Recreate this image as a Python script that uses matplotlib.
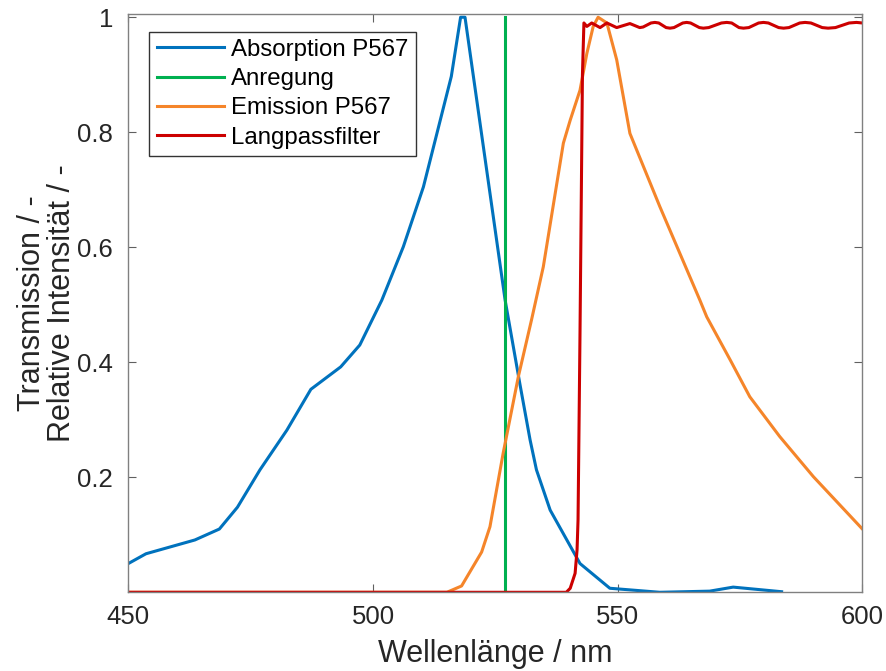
import matplotlib
matplotlib.use("Agg")
import matplotlib.pyplot as plt

plt.rcParams["font.family"] = ["Liberation Sans", "DejaVu Sans"]

# Absorption P567
abs_x = [450, 453.6, 463.6, 468.6, 472.3, 476.9, 482.4, 487.3, 493.4, 497.3,
         501.8, 506.2, 510.3, 516.0, 517.9, 518.8, 527.0, 530.0, 532.1, 533.4,
         536.2, 542.3, 548.4, 558.6, 568.8, 573.6, 583.5]
abs_y = [0.050, 0.067, 0.091, 0.110, 0.148, 0.213, 0.282, 0.353, 0.392, 0.430,
         0.508, 0.601, 0.705, 0.897, 1.0, 1.0, 0.508, 0.363, 0.265, 0.213,
         0.143, 0.050, 0.007, 0.0, 0.002, 0.009, 0.001]

# Anregung (excitation line)
exc_x = [527, 527]
exc_y = [0, 1]

# Emission P567
em_x = [450, 515.1, 518.1, 522.2, 523.9, 526.6, 529.7, 532.4, 534.8, 536.8,
        538.9, 540.3, 542.3, 543.7, 545.0, 546.0, 547.8, 549.8, 552.5, 558.6,
        566.8, 568.2, 573.0, 577.0, 583.1, 590.0, 599.9]
em_y = [0.0, 0.0, 0.011, 0.070, 0.114, 0.242, 0.375, 0.474, 0.566, 0.671,
        0.781, 0.821, 0.873, 0.937, 0.984, 1.0, 0.990, 0.926, 0.798, 0.671,
        0.508, 0.479, 0.404, 0.340, 0.271, 0.201, 0.111]

# Langpassfilter
lp_x = [450, 539.5, 540.3, 541.3, 541.7, 541.9, 542.3, 542.8, 543.1, 543.7,
        544.7, 546.4, 547.8, 549.8, 552.5, 554.5,
        555.2, 556.8, 557.6, 558.4, 559.9, 560.7, 561.5, 563.3, 564.1, 564.9,
        566.7, 567.5, 568.6, 571.2, 572.3, 573.3, 574.8, 575.7, 576.8, 578.8,
        579.8, 580.8, 582.9, 583.9, 585.0, 587.2, 588.3, 589.5, 591.8, 593.0,
        594.5, 597.3, 598.8, 600]
lp_y = [0, 0, 0.007, 0.033, 0.074, 0.126, 0.45, 0.9, 0.99, 0.984,
        0.99, 0.982, 0.99, 0.982, 0.989, 0.982,
        0.983, 0.990, 0.991, 0.990, 0.982, 0.981, 0.982, 0.990, 0.991, 0.990,
        0.982, 0.981, 0.982, 0.990, 0.991, 0.990, 0.982, 0.981, 0.982, 0.990,
        0.991, 0.990, 0.982, 0.981, 0.982, 0.990, 0.991, 0.990, 0.982, 0.981,
        0.982, 0.990, 0.991, 0.990]

x_ticks = [450, 500, 550, 600]
y_ticks = [0.2, 0.4, 0.6, 0.8, 1]
y_tick_labels = ["0.2", "0.4", "0.6", "0.8", "1"]

fig = plt.figure(figsize=(8.87, 6.71), dpi=100)
ax = fig.add_axes([0.1447, 0.1173, 0.8275, 0.8613])

lw = 2.2
ax.plot(abs_x, abs_y, color="#0072BD", lw=lw, label="Absorption P567")
ax.plot(exc_x, exc_y, color="#00B050", lw=lw, label="Anregung")
ax.plot(em_x, em_y, color="#F5852A", lw=lw, label="Emission P567")
ax.plot(lp_x, lp_y, color="#CC0000", lw=lw, label="Langpassfilter")

ax.set_xlim(450, 600)
ax.set_ylim(0, 1.005)
ax.set_xticks(x_ticks)
ax.set_yticks(y_ticks)
ax.set_yticklabels(y_tick_labels)

for s in ax.spines.values():
    s.set_color("#808080")
    s.set_linewidth(1.0)
ax.tick_params(direction="in", length=5.5, width=0.8, color="#606060",
               top=True, right=True, labelsize=18.5, labelcolor="#262626")
ax.tick_params(axis="x", pad=9)
ax.tick_params(axis="y", pad=11)

ax.set_xlabel("Wellenlänge / nm", fontsize=22, color="#262626", labelpad=7)
ax.set_ylabel("Transmission / -\nRelative Intensität / -", fontsize=22,
              color="#262626", labelpad=0, linespacing=1.0)

leg = ax.legend(loc="upper left", bbox_to_anchor=(0.0286, 0.970),
                borderaxespad=0, fontsize=17.3, handlelength=2.8,
                handletextpad=0.3, labelspacing=0.3, borderpad=0.3,
                fancybox=False, framealpha=1)
leg.get_frame().set_edgecolor("#333333")
leg.get_frame().set_linewidth(1.0)

fig.savefig("out.png", dpi=100)
